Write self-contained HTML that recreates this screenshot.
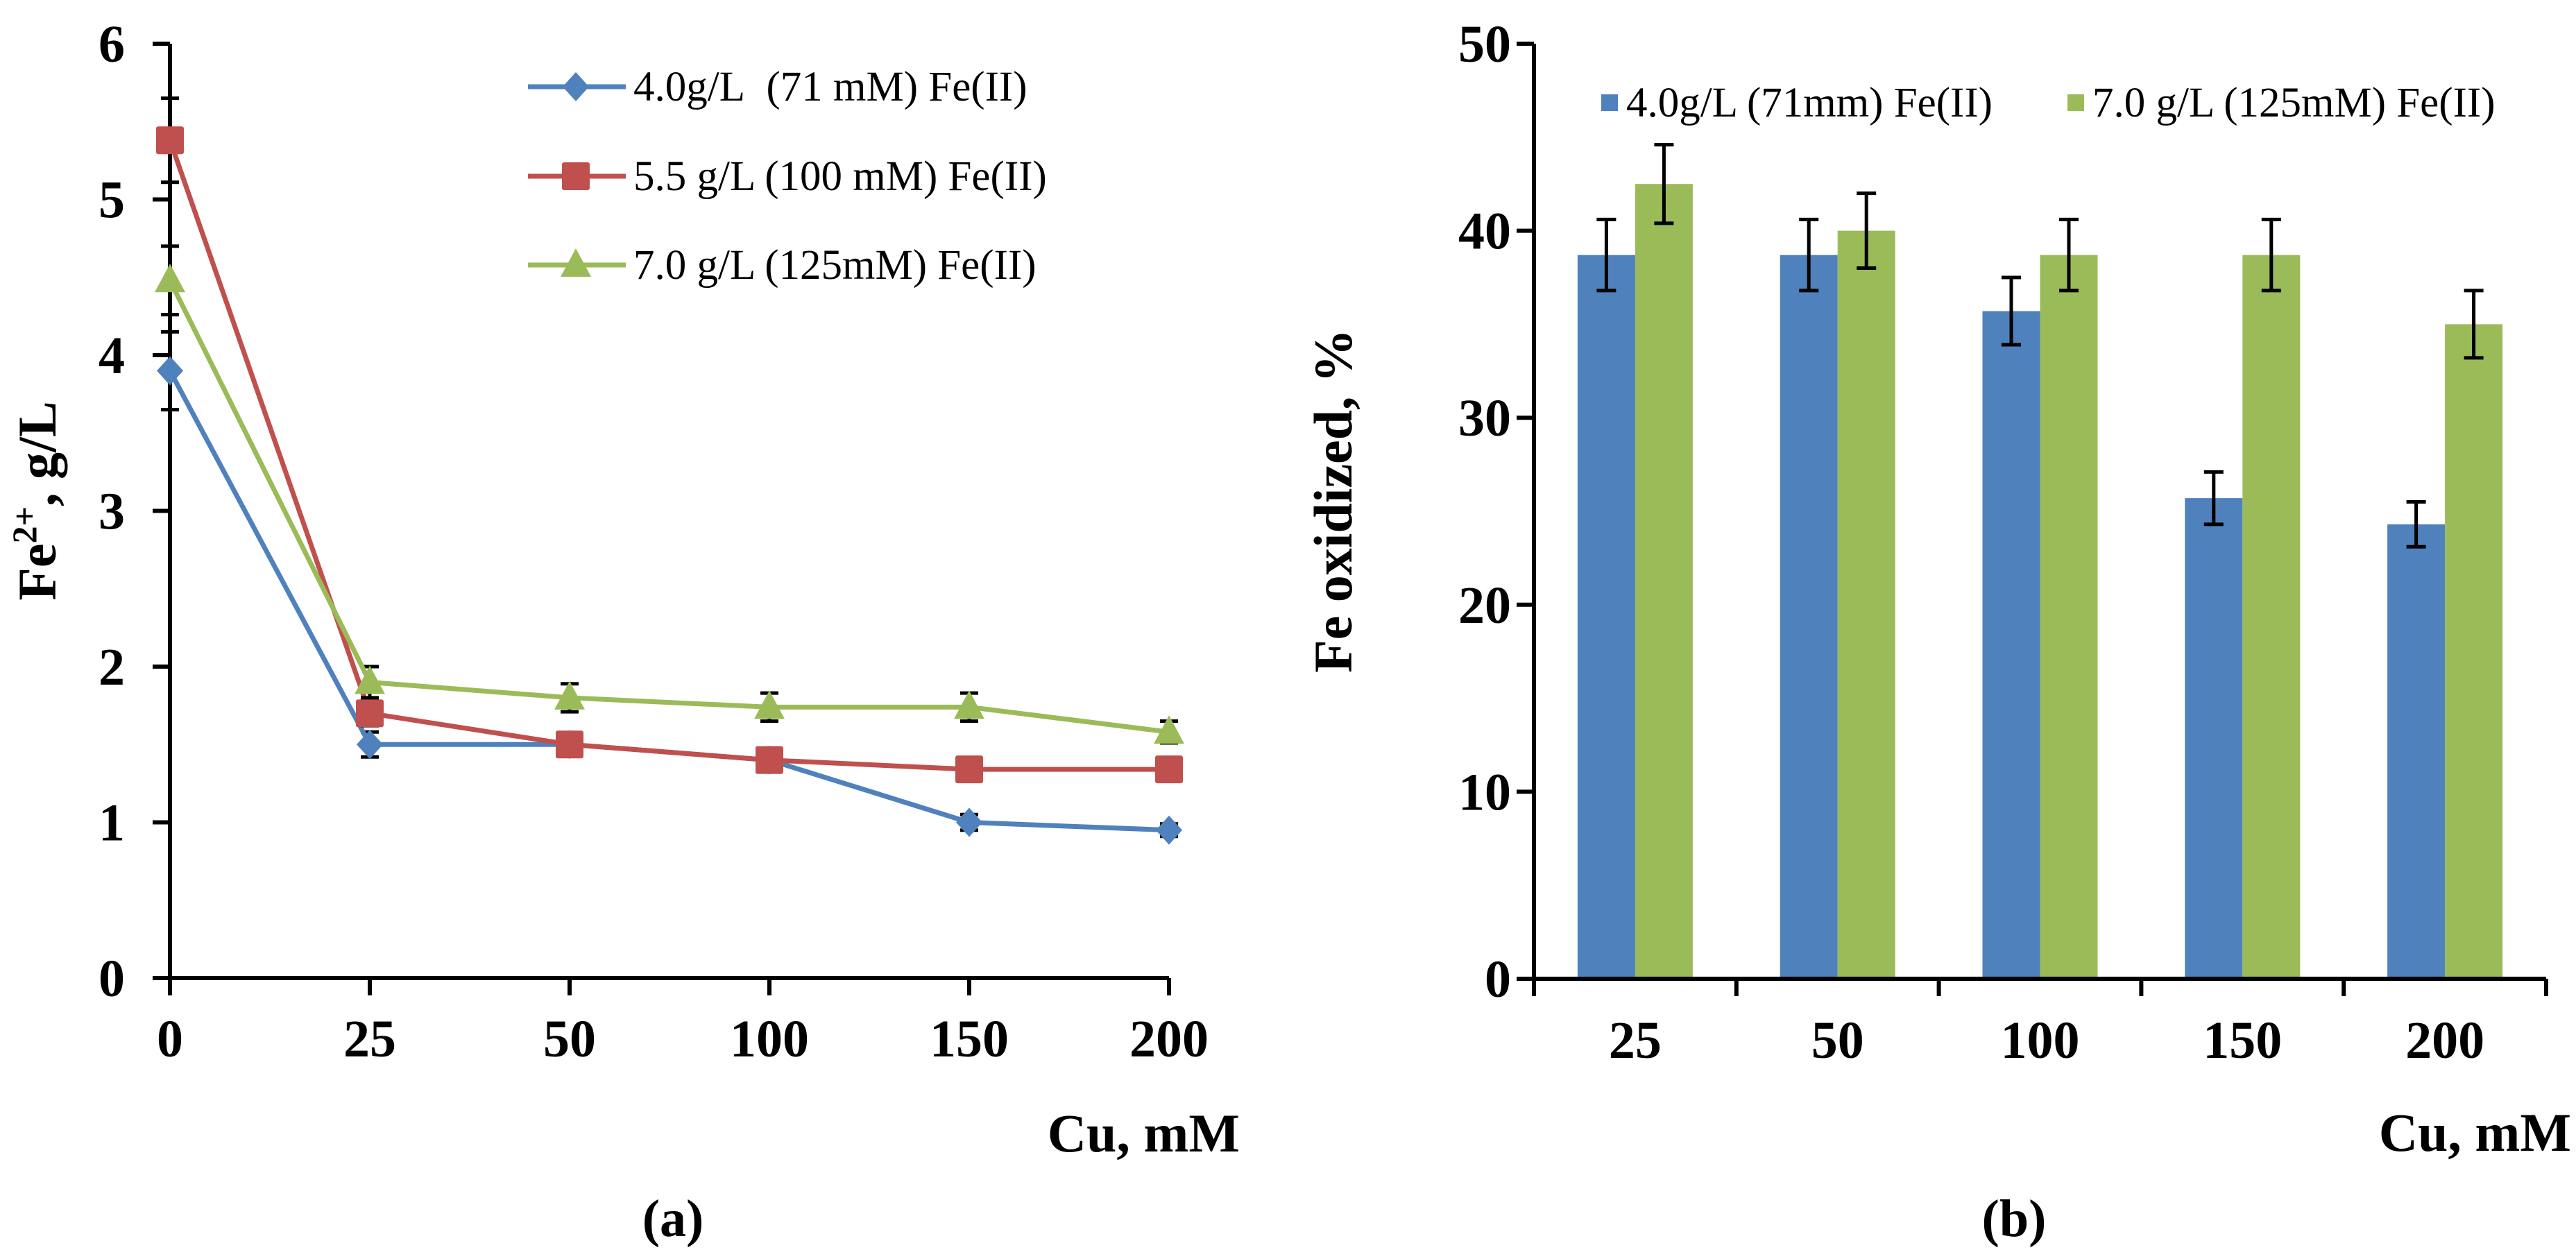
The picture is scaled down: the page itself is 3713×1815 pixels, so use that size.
<!DOCTYPE html>
<html><head><meta charset="utf-8"><style>
html,body{margin:0;padding:0;background:#fff;}
svg{display:block;font-family:"Liberation Serif","Times New Roman","Nimbus Roman","DejaVu Serif",serif;}
text{font-family:"Liberation Serif","Times New Roman","Nimbus Roman","DejaVu Serif",serif;fill:#000;}
</style></head><body>
<svg id="fig" width="3713" height="1815" viewBox="0 0 3713 1815" font-family="Liberation Serif, Times New Roman, DejaVu Serif, serif" xmlns="http://www.w3.org/2000/svg"></svg>
<script>
// ----- Chart (a) data -----
const catsA = ["0","25","50","100","150","200"];
const blueA = [3.9, 1.5, 1.5, 1.4, 1.0, 0.95];
const redA = [5.38, 1.7, 1.5, 1.4, 1.34, 1.34];
const greenA = [4.48, 1.9, 1.8, 1.74, 1.74, 1.58];
const blueErrA = [0.25, 0.08, 0.06, 0.05, 0.05, 0.04];
const redErrA = [0.27, 0.08, 0.07, 0.05, 0.04, 0.04];
const greenErrA = [0.22, 0.1, 0.09, 0.09, 0.09, 0.07];
const yTicksA = [0,1,2,3,4,5,6];
const legendA = ["4.0g/L\u00a0\u00a0(71 mM) Fe(II)","5.5 g/L (100 mM) Fe(II)","7.0 g/L (125mM) Fe(II)"];
// ----- Chart (b) data -----
const catsB = ["25","50","100","150","200"];
const blueB = [38.7, 38.7, 35.7, 25.7, 24.3];
const greenB = [42.5, 40.0, 38.7, 38.7, 35.0];
const blueErrB = [1.9, 1.9, 1.8, 1.4, 1.2];
const greenErrB = [2.1, 2.0, 1.9, 1.9, 1.8];
const yTicksB = [0,10,20,30,40,50];
const legendB = ["4.0g/L (71mm) Fe(II)","7.0 g/L (125mM) Fe(II)"];

const NS="http://www.w3.org/2000/svg";
const FONT='"Liberation Serif","Times New Roman","Nimbus Roman","DejaVu Serif",serif';
const svg=document.getElementById('fig');
function mk(tag,attrs,parent){const e=document.createElementNS(NS,tag);for(const k in attrs)e.setAttribute(k,attrs[k]);if(tag==='text')e.style.fontFamily=FONT;(parent||svg).appendChild(e);return e;}
const BLUE="#4f81bd",RED="#c0504d",GREEN="#9bbb59";

// ===== Chart A =====
const gA=mk('g',{});


const ax0=245, axStep=288, ay0=1410, ayUnit=224.5;
const xA=i=>ax0+i*axStep;
const yA=v=>ay0-v*ayUnit;
let l=mk('line',{x1:ax0,y1:yA(6),x2:ax0,y2:ay0+25,stroke:'#000','stroke-width':6},gA);


l=mk('line',{x1:ax0-25,y1:ay0,x2:xA(5),y2:ay0,stroke:'#000','stroke-width':6},gA);


yTicksA.forEach(v=>{
  mk('line',{x1:ax0-25,y1:yA(v),x2:ax0,y2:yA(v),stroke:'#000','stroke-width':6},gA);
  const t=mk('text',{x:180,y:yA(v)+26,'text-anchor':'end','font-size':76,'font-weight':'bold'},gA);
  t.textContent=v;
  
  
});
catsA.forEach((c,i)=>{
  mk('line',{x1:xA(i),y1:ay0,x2:xA(i),y2:ay0+25,stroke:'#000','stroke-width':6},gA);
  const t=mk('text',{x:xA(i),y:1523,'text-anchor':'middle','font-size':76,'font-weight':'bold'},gA);
  t.textContent=c;
  
  
});
function errBars(vals,errs,g){vals.forEach((v,i)=>{
  const x=xA(i);
  mk('line',{x1:x,y1:yA(v+errs[i]),x2:x,y2:yA(v-errs[i]),stroke:'#000','stroke-width':5},g);
  mk('line',{x1:x-13,y1:yA(v+errs[i]),x2:x+13,y2:yA(v+errs[i]),stroke:'#000','stroke-width':5},g);
  mk('line',{x1:x-13,y1:yA(v-errs[i]),x2:x+13,y2:yA(v-errs[i]),stroke:'#000','stroke-width':5},g);
});}
function marker(type,x,y,color,g){
  if(type==='sq') return mk('rect',{x:x-20,y:y-20,width:40,height:40,fill:color,rx:3},g);
  if(type==='tri') return mk('polygon',{points:`${x},${y-24} ${x+22},${y+17} ${x-22},${y+17}`,fill:color},g);
  return mk('polygon',{points:`${x},${y-21} ${x+19},${y} ${x},${y+21} ${x-19},${y}`,fill:color},g);
}
const seriesA=[[blueA,blueErrA,BLUE,'dia','series-4g'],[redA,redErrA,RED,'sq','series-5-5g'],[greenA,greenErrA,GREEN,'tri','series-7g']];
seriesA.forEach(([vals,errs,col,mtype,name])=>{
  const g=mk('g',{},gA);
  
  
  errBars(vals,errs,g);
  const p=mk('polyline',{points:vals.map((v,i)=>xA(i)+','+yA(v)).join(' '),fill:'none',stroke:col,'stroke-width':7,'stroke-linejoin':'round'},g);
  
  
  vals.forEach((v,i)=>{
    const m=marker(mtype,xA(i),yA(v),col,g);
    
    
  });
});
const legTypes=['dia','sq','tri'],legCols=[BLUE,RED,GREEN],legY=[125,254,382];
legendA.forEach((s,i)=>{
  const g=mk('g',{},gA);
  
  
  mk('line',{x1:761,y1:legY[i],x2:902,y2:legY[i],stroke:legCols[i],'stroke-width':7},g);
  marker(legTypes[i],830,legY[i],legCols[i],g);
  const t=mk('text',{x:913,y:legY[i]+20,'font-size':61},g);
  t.textContent=s;
});
let t=mk('text',{x:0,y:0,'font-size':78,'font-weight':'bold','text-anchor':'middle',transform:'translate(80,722) rotate(-90)'},gA);
t.innerHTML='Fe<tspan baseline-shift="super" font-size="50">2+</tspan>, g/L';


t=mk('text',{x:1787,y:1660,'font-size':78,'font-weight':'bold','text-anchor':'end'},gA);
t.textContent='Cu, mM';


t=mk('text',{x:970,y:1782,'font-size':76,'font-weight':'bold','text-anchor':'middle'},gA);
t.textContent='(a)';



// ===== Chart B =====
const gB=mk('g',{});


const bx0=2211, bx1=3670, by0=1411, byUnit=26.96;
const cw=(bx1-bx0)/catsB.length, bw=83;
const xB=i=>bx0+cw*(i+0.5);
const yB=v=>by0-v*byUnit;
catsB.forEach((c,i)=>{
  const cx=xB(i);
  [[blueB,blueErrB,BLUE,-1,'bar-4g-'],[greenB,greenErrB,GREEN,0,'bar-7g-']].forEach(([vals,errs,col,off,nm])=>{
    const v=vals[i];
    const r=mk('rect',{x:cx+off*bw,y:yB(v),width:bw,height:v*byUnit,fill:col},gB);
    
    
    const ex=cx+off*bw+bw/2;
    mk('line',{x1:ex,y1:yB(v+errs[i]),x2:ex,y2:yB(v-errs[i]),stroke:'#000','stroke-width':5},gB);
    mk('line',{x1:ex-14,y1:yB(v+errs[i]),x2:ex+14,y2:yB(v+errs[i]),stroke:'#000','stroke-width':5},gB);
    mk('line',{x1:ex-14,y1:yB(v-errs[i]),x2:ex+14,y2:yB(v-errs[i]),stroke:'#000','stroke-width':5},gB);
  });
  const tt=mk('text',{x:cx,y:1525,'text-anchor':'middle','font-size':76,'font-weight':'bold'},gB);
  tt.textContent=c;
  
  
});
for(let i=0;i<=catsB.length;i++) mk('line',{x1:bx0+cw*i,y1:by0,x2:bx0+cw*i,y2:by0+25,stroke:'#000','stroke-width':6},gB);
l=mk('line',{x1:bx0,y1:yB(50),x2:bx0,y2:by0,stroke:'#000','stroke-width':6},gB);


l=mk('line',{x1:bx0-25,y1:by0,x2:bx1,y2:by0,stroke:'#000','stroke-width':6},gB);


yTicksB.forEach(v=>{
  mk('line',{x1:bx0-25,y1:yB(v),x2:bx0,y2:yB(v),stroke:'#000','stroke-width':6},gB);
  const tt=mk('text',{x:2178,y:yB(v)+26,'text-anchor':'end','font-size':76,'font-weight':'bold'},gB);
  tt.textContent=v;
  
  
});
const legBx=[2308,2980],legBc=[BLUE,GREEN];
legendB.forEach((s,i)=>{
  const g=mk('g',{},gB);
  
  
  mk('rect',{x:legBx[i],y:136,width:24,height:24,fill:legBc[i]},g);
  const tt=mk('text',{x:legBx[i]+36,y:168,'font-size':61},g);
  tt.textContent=s;
});
t=mk('text',{x:0,y:0,'font-size':78,'font-weight':'bold','text-anchor':'middle',transform:'translate(1948,722) rotate(-90)'},gB);
t.textContent='Fe oxidized, %';


t=mk('text',{x:3706,y:1659,'font-size':78,'font-weight':'bold','text-anchor':'end'},gB);
t.textContent='Cu, mM';


t=mk('text',{x:2903,y:1782,'font-size':76,'font-weight':'bold','text-anchor':'middle'},gB);
t.textContent='(b)';


</script>
</body></html>
